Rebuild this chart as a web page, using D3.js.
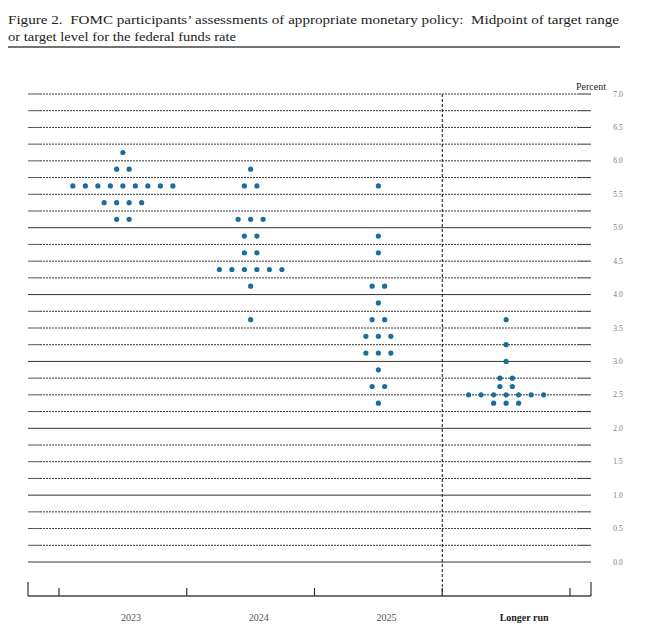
<!DOCTYPE html>
<html>
<head>
<meta charset="utf-8">
<script src="https://cdn.jsdelivr.net/npm/d3@7"></script>
<style>
  body { margin: 0; background: #fff; }
  text { font-family: "Liberation Serif", "Times New Roman", serif; }
  .title { white-space: pre; }
</style>
</head>
<body>
<div id="chart"></div>
<script>
var width = 664,
    height = 633;

// categories along the bottom
var categories = ["2023", "2024", "2025", "Longer run"];

// one entry per participant (midpoint of target range, percent)
var dots2023 = [6.125,
  5.875, 5.875,
  5.625, 5.625, 5.625, 5.625, 5.625, 5.625, 5.625, 5.625, 5.625,
  5.375, 5.375, 5.375, 5.375,
  5.125, 5.125];

var dots2024 = [5.875,
  5.625, 5.625,
  5.125, 5.125, 5.125,
  4.875, 4.875,
  4.625, 4.625,
  4.375, 4.375, 4.375, 4.375, 4.375, 4.375,
  4.125,
  3.625];

var dots2025 = [5.625,
  4.875,
  4.625,
  4.125, 4.125,
  3.875,
  3.625, 3.625,
  3.375, 3.375, 3.375,
  3.125, 3.125, 3.125,
  2.875,
  2.625, 2.625,
  2.375];

var dotsLonger = [3.625,
  3.25,
  3.0,
  2.75, 2.75,
  2.625, 2.625,
  2.5, 2.5, 2.5, 2.5, 2.5, 2.5, 2.5,
  2.375, 2.375, 2.375];

var yTicks = [0, 0.5, 1, 1.5, 2, 2.5, 3, 3.5, 4, 4.5, 5, 5.5, 6, 6.5, 7];
var gridValues = d3.range(0, 7.001, 0.25);

var titleLines = [
  "Figure 2.  FOMC participants\u2019 assessments of appropriate monetary policy:  Midpoint of target range",
  "or target level for the federal funds rate"
];

var series = [dots2023, dots2024, dots2025, dotsLonger];

var svg = d3.select("#chart")
  .append("svg")
  .attr("width", width)
  .attr("height", height);

var x = d3.scaleBand().domain(categories).range([59, 570]);
var y = d3.scaleLinear().domain([0, 7]).range([562, 94]);

var left = 28, right = 591, axisY = 596;

// title
svg.selectAll(".title")
  .data(titleLines)
  .enter().append("text")
  .attr("class", "title")
  .attr("x", 8)
  .attr("y", function(d, i) { return 24 + i * 17; })
  .attr("font-size", 13.5)
  .attr("fill", "#222")
  .attr("textLength", function(d, i) { return i == 0 ? 611 : 228; })
  .attr("lengthAdjust", "spacingAndGlyphs")
  .text(function(d) { return d; });

svg.append("line")
  .attr("x1", 8).attr("x2", 620)
  .attr("y1", 47).attr("y2", 47)
  .attr("stroke", "#444")
  .attr("stroke-width", 1.6);

// gridlines: solid at whole numbers up to 5, dotted elsewhere with solid stubs at the ends
var grid = svg.append("g");
gridValues.forEach(function(v) {
  var solid = (v % 1 == 0) && v <= 5;
  if (solid) {
    grid.append("line")
      .attr("x1", left).attr("x2", right)
      .attr("y1", y(v)).attr("y2", y(v))
      .attr("stroke", "#333").attr("stroke-width", 1);
  } else {
    grid.append("line")
      .attr("x1", left + 12).attr("x2", right - 13)
      .attr("y1", y(v)).attr("y2", y(v))
      .attr("stroke", "#333").attr("stroke-width", 1)
      .attr("stroke-dasharray", "2,1");
    grid.append("line")
      .attr("x1", left).attr("x2", left + 12)
      .attr("y1", y(v)).attr("y2", y(v))
      .attr("stroke", "#555").attr("stroke-width", 1);
    grid.append("line")
      .attr("x1", right - 13).attr("x2", right)
      .attr("y1", y(v)).attr("y2", y(v))
      .attr("stroke", "#333").attr("stroke-width", 1);
  }
});

// right hand tick labels
svg.selectAll(".ylab")
  .data(yTicks)
  .enter().append("text")
  .attr("class", "ylab")
  .attr("x", 618)
  .attr("y", function(d) { return y(d) + 2.5; })
  .attr("text-anchor", "middle")
  .attr("font-size", 7.5)
  .attr("fill", "#777")
  .text(function(d) { return d3.format(".1f")(d); });

svg.append("text")
  .attr("x", 591)
  .attr("y", 90)
  .attr("text-anchor", "middle")
  .attr("font-size", 10)
  .attr("fill", "#222")
  .text("Percent");

// dashed divider before the longer run column
svg.append("line")
  .attr("x1", x("Longer run")).attr("x2", x("Longer run"))
  .attr("y1", y(7)).attr("y2", axisY)
  .attr("stroke", "#111")
  .attr("stroke-width", 1)
  .attr("stroke-dasharray", "3,2");

// bottom axis
svg.append("line")
  .attr("x1", left).attr("x2", right)
  .attr("y1", axisY).attr("y2", axisY)
  .attr("stroke", "#444").attr("stroke-width", 1.5);

[left, right].forEach(function(px) {
  svg.append("line")
    .attr("x1", px).attr("x2", px)
    .attr("y1", axisY - 14).attr("y2", axisY)
    .attr("stroke", "#333").attr("stroke-width", 1.2);
});

var tickPos = categories.map(function(c) { return x(c); }).concat([x.range()[1]]);
svg.selectAll(".xtick")
  .data(tickPos)
  .enter().append("line")
  .attr("class", "xtick")
  .attr("x1", function(d) { return d; })
  .attr("x2", function(d) { return d; })
  .attr("y1", axisY - 8).attr("y2", axisY)
  .attr("stroke", "#333").attr("stroke-width", 1.2);

svg.selectAll(".xlab")
  .data(categories)
  .enter().append("text")
  .attr("class", "xlab")
  .attr("x", function(d) { return x(d) + x.bandwidth() / 2; })
  .attr("dx", function(d) { return d == "Longer run" ? 18 : 8; })
  .attr("y", 621)
  .attr("text-anchor", "middle")
  .attr("font-size", 10)
  .attr("font-weight", function(d) { return d == "Longer run" ? "bold" : "normal"; })
  .attr("fill", function(d) { return d == "Longer run" ? "#222" : "#555"; })
  .text(function(d) { return d; });

// dots: each row of equal values is centred on its column
var points = [];
series.forEach(function(vals, k) {
  var counts = d3.rollup(vals, function(v) { return v.length; }, function(d) { return d; });
  counts.forEach(function(n, v) {
    for (var i = 0; i < n; i++) {
      points.push({ cat: categories[k], value: v, off: i - (n - 1) / 2 });
    }
  });
});

svg.selectAll(".dot")
  .data(points)
  .enter().append("circle")
  .attr("class", "dot")
  .attr("cx", function(d) { return x(d.cat) + x.bandwidth() / 2 + d.off * 12.5; })
  .attr("cy", function(d) { return y(d.value); })
  .attr("r", 2.6)
  .attr("fill", "#1b6e9c");
</script>
</body>
</html>
